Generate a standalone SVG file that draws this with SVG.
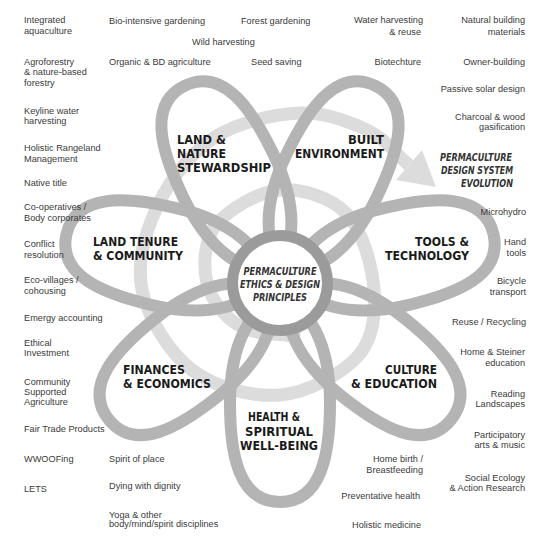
<svg xmlns="http://www.w3.org/2000/svg" width="546" height="548" viewBox="0 0 546 548">
<style>
.s{font-family:"Liberation Sans",Arial,sans-serif;font-size:9.2px;fill:#3a3a3a}
.e{text-anchor:end}
.p{font-family:"DejaVu Sans",sans-serif;font-weight:bold;font-size:11.5px;fill:#1a1a1a}
.h{font-family:"DejaVu Sans",sans-serif;font-weight:bold;font-style:italic;font-size:10.5px;fill:#333}
.petal{fill:none;stroke:#b4b4b4;stroke-width:12;stroke-linejoin:round}
.spiral{fill:none;stroke:#dcdcdc;stroke-width:13}
</style>
<defs>
<path id="petalShape" d="M0,20 C-28,20 -50,60 -50,120 C-50,170 -42,219 0,219 C42,219 50,170 50,120 C50,60 28,20 0,20 Z"/>
</defs>
<rect width="546" height="548" fill="#ffffff"/>
<g id="connectors">
<g id="spiral-arrow">
<path class="spiral" d="M300,337 C280,333.3 255.5,335 240,326 C224.5,317 211,299.8 207,283 C203,266.2 203.8,240.5 216,225 C228.2,209.5 258.2,191.8 280,190 C301.8,188.2 331.3,197.3 347,214 C362.7,230.7 372.2,266.3 374,290 C375.8,313.7 373.7,338.5 358,356 C342.3,373.5 307.7,392.7 280,395 C252.3,397.3 215,387.5 192,370 C169,352.5 147.7,317.5 142,290 C136.3,262.5 145.8,230.5 158,205 C170.2,179.5 191.3,152.3 215,137 C238.7,121.7 274.7,114.2 300,113 C325.3,111.8 348.8,121.3 367,130 C385.2,138.7 395,153.3 409,165"/>
<polygon points="436,187 396,180 422,150" fill="#dcdcdc"/>
</g>
</g>
<g id="petal-land-nature"><use href="#petalShape" class="petal" transform="translate(280,283) rotate(154.29)"/></g>
<g id="petal-built"><use href="#petalShape" class="petal" transform="translate(280,283) rotate(-154.29)"/></g>
<g id="petal-tools"><use href="#petalShape" class="petal" transform="translate(280,283) rotate(-102.86)"/></g>
<g id="petal-culture"><use href="#petalShape" class="petal" transform="translate(280,283) rotate(-51.43)"/></g>
<g id="petal-health"><use href="#petalShape" class="petal" transform="translate(280,283)"/></g>
<g id="petal-finances"><use href="#petalShape" class="petal" transform="translate(280,283) rotate(51.43)"/></g>
<g id="petal-land-tenure"><use href="#petalShape" class="petal" transform="translate(280,283) rotate(102.86)"/></g>
<g id="hub">
<circle cx="280" cy="283" r="47.5" fill="#ffffff" stroke="#9b9b9b" stroke-width="11"/>
<text class="h" x="280" y="275" text-anchor="middle" textLength="73" lengthAdjust="spacingAndGlyphs">PERMACULTURE</text>
<text class="h" x="280" y="288" text-anchor="middle" textLength="80" lengthAdjust="spacingAndGlyphs">ETHICS &amp; DESIGN</text>
<text class="h" x="280" y="301" text-anchor="middle" textLength="54" lengthAdjust="spacingAndGlyphs">PRINCIPLES</text>
</g>
<g id="label-land-nature">
<text class="p" x="177" y="144" textLength="49" lengthAdjust="spacingAndGlyphs">LAND &amp;</text>
<text class="p" x="177" y="157.5" textLength="49" lengthAdjust="spacingAndGlyphs">NATURE</text>
<text class="p" x="177" y="171.5" textLength="94" lengthAdjust="spacingAndGlyphs">STEWARDSHIP</text>
</g>
<g id="label-built">
<text class="p" x="348" y="144" textLength="36" lengthAdjust="spacingAndGlyphs">BUILT</text>
<text class="p" x="295" y="157.5" textLength="89" lengthAdjust="spacingAndGlyphs">ENVIRONMENT</text>
</g>
<g id="label-land-tenure">
<text class="p" x="93" y="246" textLength="85" lengthAdjust="spacingAndGlyphs">LAND TENURE</text>
<text class="p" x="93" y="260" textLength="90" lengthAdjust="spacingAndGlyphs">&amp; COMMUNITY</text>
</g>
<g id="label-tools">
<text class="p" x="415" y="246" textLength="54" lengthAdjust="spacingAndGlyphs">TOOLS &amp;</text>
<text class="p" x="385" y="260" textLength="84" lengthAdjust="spacingAndGlyphs">TECHNOLOGY</text>
</g>
<g id="label-finances">
<text class="p" x="123" y="374" textLength="62" lengthAdjust="spacingAndGlyphs">FINANCES</text>
<text class="p" x="123" y="387.5" textLength="88" lengthAdjust="spacingAndGlyphs">&amp; ECONOMICS</text>
</g>
<g id="label-culture">
<text class="p" x="385" y="374" textLength="52" lengthAdjust="spacingAndGlyphs">CULTURE</text>
<text class="p" x="351" y="387.5" textLength="86" lengthAdjust="spacingAndGlyphs">&amp; EDUCATION</text>
</g>
<g id="label-health">
<text class="p" x="248" y="420.5" textLength="52" lengthAdjust="spacingAndGlyphs">HEALTH &amp;</text>
<text class="p" x="245" y="435.5" textLength="68" lengthAdjust="spacingAndGlyphs">SPIRITUAL</text>
<text class="p" x="240" y="449.5" textLength="78" lengthAdjust="spacingAndGlyphs">WELL-BEING</text>
</g>
<g id="label-evolution">
<text class="h" x="440" y="161" textLength="72" lengthAdjust="spacingAndGlyphs">PERMACULTURE</text>
<text class="h" x="441" y="174" textLength="72" lengthAdjust="spacingAndGlyphs">DESIGN SYSTEM</text>
<text class="h" x="461" y="187" textLength="52" lengthAdjust="spacingAndGlyphs">EVOLUTION</text>
</g>
<g id="items-left">
<text class="s" x="24" y="23">Integrated</text>
<text class="s" x="24" y="34">aquaculture</text>
<text class="s" x="24" y="65">Agroforestry</text>
<text class="s" x="24" y="75">&amp; nature-based</text>
<text class="s" x="24" y="85.5">forestry</text>
<text class="s" x="24" y="113.5">Keyline water</text>
<text class="s" x="24" y="124">harvesting</text>
<text class="s" x="24" y="150.5">Holistic Rangeland</text>
<text class="s" x="24" y="161.5">Management</text>
<text class="s" x="24" y="186">Native title</text>
<text class="s" x="24" y="209.5">Co-operatives /</text>
<text class="s" x="24" y="220.5">Body corporates</text>
<text class="s" x="24" y="246.5">Conflict</text>
<text class="s" x="24" y="257.5">resolution</text>
<text class="s" x="24" y="283">Eco-villages /</text>
<text class="s" x="24" y="294">cohousing</text>
<text class="s" x="24" y="320.5">Emergy accounting</text>
<text class="s" x="24" y="345.5">Ethical</text>
<text class="s" x="24" y="355.5">Investment</text>
<text class="s" x="24" y="384.5">Community</text>
<text class="s" x="24" y="395">Supported</text>
<text class="s" x="24" y="404.5">Agriculture</text>
<text class="s" x="24" y="431.5">Fair Trade Products</text>
<text class="s" x="24" y="461.5">WWOOFing</text>
<text class="s" x="24" y="491.5">LETS</text>
</g>
<g id="items-top">
<text class="s" x="109" y="23.5">Bio-intensive gardening</text>
<text class="s" x="241" y="23.5">Forest gardening</text>
<text class="s" x="192" y="44.5">Wild harvesting</text>
<text class="s" x="109" y="64.5">Organic &amp; BD agriculture</text>
<text class="s" x="251" y="64.5">Seed saving</text>
<text class="s e" x="423" y="23">Water harvesting</text>
<text class="s e" x="421" y="34.5">&amp; reuse</text>
<text class="s e" x="421" y="64.5">Biotechture</text>
</g>
<g id="items-right">
<text class="s e" x="525" y="23">Natural building</text>
<text class="s e" x="525" y="34.5">materials</text>
<text class="s e" x="525" y="64.5">Owner-building</text>
<text class="s e" x="525" y="91.5">Passive solar design</text>
<text class="s e" x="525" y="119.5">Charcoal &amp; wood</text>
<text class="s e" x="525" y="129.5">gasification</text>
<text class="s e" x="526" y="214.5">Microhydro</text>
<text class="s e" x="526" y="244.5">Hand</text>
<text class="s e" x="526" y="255.5">tools</text>
<text class="s e" x="526" y="283.5">Bicycle</text>
<text class="s e" x="526" y="294.5">transport</text>
<text class="s e" x="526" y="324.5">Reuse / Recycling</text>
<text class="s e" x="525" y="354.5">Home &amp; Steiner</text>
<text class="s e" x="525" y="365.5">education</text>
<text class="s e" x="525" y="396.5">Reading</text>
<text class="s e" x="525" y="406.5">Landscapes</text>
<text class="s e" x="525" y="437.5">Participatory</text>
<text class="s e" x="525" y="447.5">arts &amp; music</text>
<text class="s e" x="525" y="480.5">Social Ecology</text>
<text class="s e" x="525" y="490.5">&amp; Action Research</text>
</g>
<g id="items-bottom">
<text class="s" x="109" y="461.5">Spirit of place</text>
<text class="s" x="109" y="488.5">Dying with dignity</text>
<text class="s" x="109" y="517.5">Yoga &amp; other</text>
<text class="s" x="109" y="527">body/mind/spirit disciplines</text>
<text class="s e" x="423" y="461.5">Home birth /</text>
<text class="s e" x="423" y="472.5">Breastfeeding</text>
<text class="s e" x="420" y="498.5">Preventative health</text>
<text class="s e" x="421" y="527.5">Holistic medicine</text>
</g>
</svg>
